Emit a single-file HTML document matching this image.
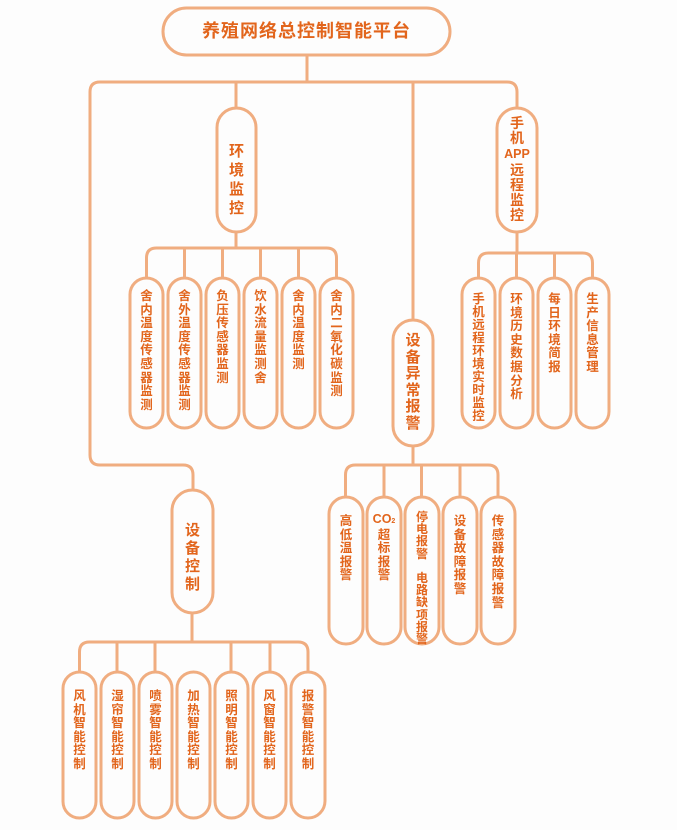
<!DOCTYPE html>
<html><head><meta charset="utf-8"><style>
body{margin:0;background:#fdfdfd;}
#c{position:relative;width:677px;height:830px;overflow:hidden;font-family:"Liberation Sans","Noto Sans CJK SC",sans-serif;font-weight:bold;color:#e2651c;}
svg{position:absolute;left:0;top:0}
.t{position:absolute;text-align:center;line-height:13.6px;font-size:12.5px;}
.b{position:absolute;text-align:center;line-height:19px;font-size:15px;}
</style></head><body><div id="c">
<svg width="677" height="830" fill="none" stroke="#f0ad80" stroke-width="3">
<rect x="163" y="8" width="287" height="47" rx="23.5"/>
<path d="M307,55V82"/>
<path d="M90,455V92Q90,82 100,82H507Q517,82 517,92V108"/>
<path d="M90,455Q90,465 100,465H183Q193,465 193,475V490"/>
<path d="M236,82V108M413,82V320"/>
<rect x="217" y="108" width="39" height="124" rx="19.5"/>
<path d="M236,232V248"/>
<path d="M146.5,278V258Q146.5,248 156.5,248H326.5Q336.5,248 336.5,258V278M184.5,248V278M222.5,248V278M260.5,248V278M298.5,248V278"/>
<rect x="130" y="278" width="33" height="150" rx="16.5"/>
<rect x="168" y="278" width="33" height="150" rx="16.5"/>
<rect x="206" y="278" width="33" height="150" rx="16.5"/>
<rect x="244" y="278" width="33" height="150" rx="16.5"/>
<rect x="282" y="278" width="33" height="150" rx="16.5"/>
<rect x="320" y="278" width="33" height="150" rx="16.5"/>
<rect x="497" y="108" width="40" height="124" rx="20"/>
<path d="M517,232V253"/>
<path d="M478.5,278V263Q478.5,253 488.5,253H582.5Q592.5,253 592.5,263V278M516.5,253V278M554.5,253V278"/>
<rect x="462" y="278" width="33" height="150" rx="16.5"/>
<rect x="500" y="278" width="33" height="150" rx="16.5"/>
<rect x="538" y="278" width="33" height="150" rx="16.5"/>
<rect x="576" y="278" width="33" height="150" rx="16.5"/>
<rect x="393" y="320" width="40" height="126" rx="20"/>
<path d="M413,446V465"/>
<path d="M345.5,497V475Q345.5,465 355.5,465H488Q498,465 498,475V497M384,465V497M421.5,465V497M460,465V497"/>
<rect x="329" y="497" width="34" height="147" rx="17"/>
<rect x="367" y="497" width="34" height="147" rx="17"/>
<rect x="405" y="497" width="34" height="147" rx="17"/>
<rect x="443" y="497" width="34" height="147" rx="17"/>
<rect x="481" y="497" width="34" height="147" rx="17"/>
<rect x="172" y="490" width="41" height="123" rx="20.5"/>
<path d="M192,613V642"/>
<path d="M79.5,672V652Q79.5,642 89.5,642H298Q308,642 308,652V672M117,642V672M155,642V672M231,642V672M270,642V672"/>
<rect x="63" y="672" width="33" height="146" rx="16.5"/>
<rect x="101" y="672" width="33" height="146" rx="16.5"/>
<rect x="139" y="672" width="33" height="146" rx="16.5"/>
<rect x="177" y="672" width="33" height="146" rx="16.5"/>
<rect x="215" y="672" width="33" height="146" rx="16.5"/>
<rect x="253" y="672" width="33" height="146" rx="16.5"/>
<rect x="291" y="672" width="34" height="146" rx="17"/>
</svg>
<div style="position:absolute;left:163px;top:19px;width:287px;text-align:center;font-size:18px;line-height:24px;letter-spacing:1px">养殖网络总控制智能平台</div>
<div class="b" style="left:217px;top:142px;width:39px">环<br>境<br>监<br>控</div>
<div class="b" style="left:497px;top:116px;width:40px;line-height:15.2px;font-size:14px">手<br>机<br><span style="font-size:12.5px">APP</span><br>远<br>程<br>监<br>控</div>
<div class="b" style="left:393px;top:333px;width:40px;line-height:16.5px">设<br>备<br>异<br>常<br>报<br>警</div>
<div class="b" style="left:172px;top:522px;width:41px;line-height:18px">设<br>备<br>控<br>制</div>
<div class="t" style="left:130px;top:290px;width:33px">舍<br>内<br>温<br>度<br>传<br>感<br>器<br>监<br>测</div>
<div class="t" style="left:168px;top:290px;width:33px">舍<br>外<br>温<br>度<br>传<br>感<br>器<br>监<br>测</div>
<div class="t" style="left:206px;top:290px;width:33px">负<br>压<br>传<br>感<br>器<br>监<br>测</div>
<div class="t" style="left:244px;top:290px;width:33px">饮<br>水<br>流<br>量<br>监<br>测<br>舍</div>
<div class="t" style="left:282px;top:290px;width:33px">舍<br>内<br>温<br>度<br>监<br>测</div>
<div class="t" style="left:320px;top:290px;width:33px">舍<br>内<br>二<br>氧<br>化<br>碳<br>监<br>测</div>
<div class="t" style="left:462px;top:293px;width:33px;line-height:13px">手<br>机<br>远<br>程<br>环<br>境<br>实<br>时<br>监<br>控</div>
<div class="t" style="left:500px;top:293px;width:33px">环<br>境<br>历<br>史<br>数<br>据<br>分<br>析</div>
<div class="t" style="left:538px;top:293px;width:33px">每<br>日<br>环<br>境<br>简<br>报</div>
<div class="t" style="left:576px;top:293px;width:33px">生<br>产<br>信<br>息<br>管<br>理</div>
<div class="t" style="left:329px;top:515px;width:34px">高<br>低<br>温<br>报<br>警</div>
<div class="t" style="left:367px;top:513px;width:34px">CO<span style="font-size:7px">2</span><br>超<br>标<br>报<br>警</div>
<div class="t" style="left:405px;top:511px;width:34px;line-height:12.2px;font-size:12px">停<br>电<br>报<br>警<br><span style="line-height:4px">&nbsp;</span><br>电<br>路<br>缺<br>项<br>报<br>警</div>
<div class="t" style="left:443px;top:515px;width:34px">设<br>备<br>故<br>障<br>报<br>警</div>
<div class="t" style="left:481px;top:515px;width:34px">传<br>感<br>器<br>故<br>障<br>报<br>警</div>
<div class="t" style="left:63px;top:690px;width:33px">风<br>机<br>智<br>能<br>控<br>制</div>
<div class="t" style="left:101px;top:690px;width:33px">湿<br>帘<br>智<br>能<br>控<br>制</div>
<div class="t" style="left:139px;top:690px;width:33px">喷<br>雾<br>智<br>能<br>控<br>制</div>
<div class="t" style="left:177px;top:690px;width:33px">加<br>热<br>智<br>能<br>控<br>制</div>
<div class="t" style="left:215px;top:690px;width:33px">照<br>明<br>智<br>能<br>控<br>制</div>
<div class="t" style="left:253px;top:690px;width:33px">风<br>窗<br>智<br>能<br>控<br>制</div>
<div class="t" style="left:291px;top:690px;width:34px">报<br>警<br>智<br>能<br>控<br>制</div>
</div></body></html>
